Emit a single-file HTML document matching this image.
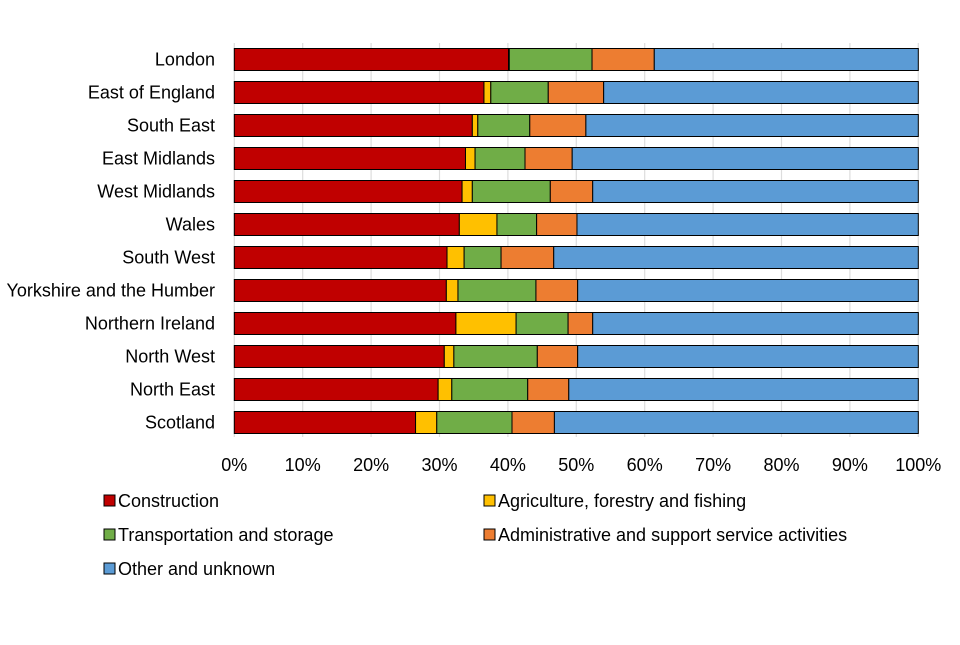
<!DOCTYPE html>
<html><head><meta charset="utf-8"><style>
body{margin:0;background:#fff;font-family:"Liberation Sans",sans-serif}
svg text{font-family:"Liberation Sans",sans-serif;font-size:18px;fill:#000}
</style></head><body>
<svg width="960" height="640">
<g id="grid"></g><g id="bars"></g><g id="labels"></g><g id="legend"></g>
</svg>
<script>
const regions=["London","East of England","South East","East Midlands","West Midlands","Wales","South West","Yorkshire and the Humber","Northern Ireland","North West","North East","Scotland"];
const construction=[40.1,36.5,34.8,33.8,33.3,32.9,31.1,31.0,32.4,30.7,29.8,26.5];
const agriculture=[0.1,1.0,0.8,1.4,1.5,5.5,2.5,1.7,8.8,1.4,2.0,3.1];
const transport=[12.1,8.4,7.6,7.3,11.4,5.8,5.4,11.4,7.6,12.2,11.1,11.0];
const admin=[9.1,8.1,8.2,6.9,6.2,5.9,7.7,6.1,3.6,5.9,6.0,6.2];
const other=[38.6,46.0,48.6,50.6,47.6,49.9,53.3,49.8,47.6,49.8,51.1,53.2];
const seriesNames=["Construction","Agriculture, forestry and fishing","Transportation and storage","Administrative and support service activities","Other and unknown"];
const ticks=["0%","10%","20%","30%","40%","50%","60%","70%","80%","90%","100%"];
const colors=["#c00000","#ffc000","#70ad47","#ed7d31","#5b9bd5"];
const NS="http://www.w3.org/2000/svg";
const x0=234.3,pxPer=6.84,top0=43,band=33,bh=22;
const xs=v=>x0+v*pxPer;
const yb=i=>top0+i*band+(band-bh)/2;
function mk(t,a,p){const e=document.createElementNS(NS,t);for(const k in a)e.setAttribute(k,a[k]);p.appendChild(e);return e;}
const grid=document.getElementById('grid');
ticks.forEach((t,i)=>{
 const l=mk('line',{x1:xs(i*10),x2:xs(i*10),y1:top0,y2:437,stroke:'#dddddd','stroke-width':1.2},grid);
 
 
 const tx=mk('text',{x:xs(i*10),y:471,'text-anchor':'middle'},grid);tx.textContent=t;
 
 
});
const bars=document.getElementById('bars');
const all=[construction,agriculture,transport,admin,other];
regions.forEach((r,i)=>{
 let acc=0;
 all.forEach((s,k)=>{
  const v=s[i];
  const rc=mk('rect',{x:xs(acc),y:yb(i),width:v*pxPer,height:bh,fill:colors[k],stroke:'#000','stroke-width':1},bars);
  
  
  acc+=v;
 });
 const t=mk('text',{x:215,y:yb(i)+bh/2+6,'text-anchor':'end'},document.getElementById('labels'));t.textContent=r;
 
 
});
const lg=document.getElementById('legend');
const pos=[[104,501],[484,501],[104,535],[484,535],[104,569]];
seriesNames.forEach((n,k)=>{
 const g=mk('g',{},lg);
 
 
 mk('rect',{x:pos[k][0],y:pos[k][1]-6,width:11,height:11,fill:colors[k],stroke:'#000','stroke-width':1},g);
 const t=mk('text',{x:pos[k][0]+14,y:pos[k][1]+6},g);t.textContent=n;
});
</script>
</body></html>
